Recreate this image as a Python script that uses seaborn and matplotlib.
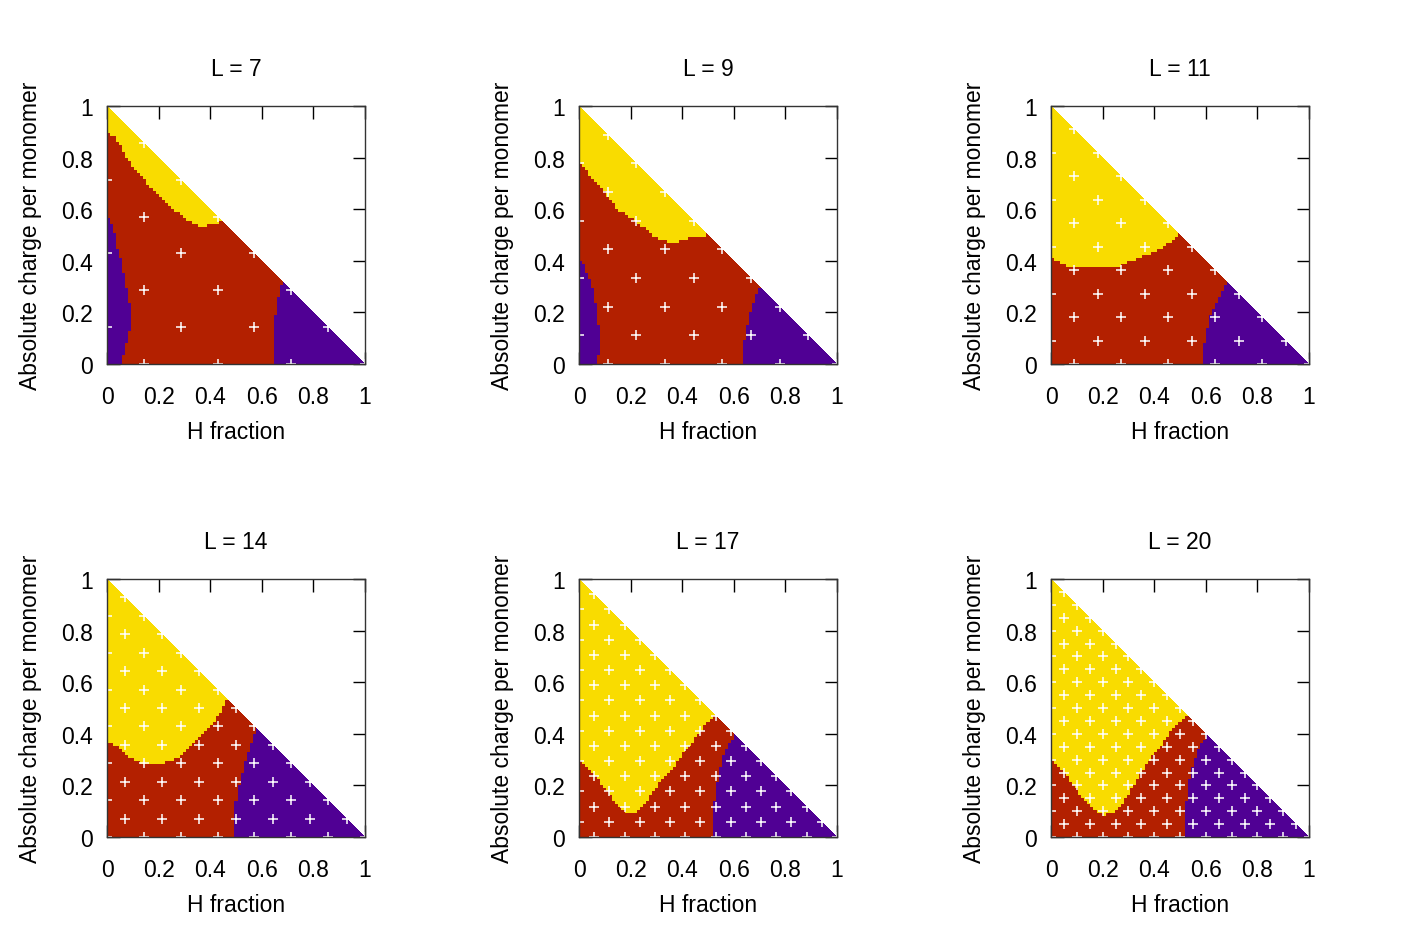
import numpy as np
import matplotlib
matplotlib.use("Agg")
import matplotlib.pyplot as plt
from matplotlib.colors import ListedColormap
import seaborn as sns

# ---- data -------------------------------------------------------------
lengths = [7, 9, 11, 14, 17, 20]
tick_vals = [0, 0.2, 0.4, 0.6, 0.8, 1]
tick_labels = ["0", "0.2", "0.4", "0.6", "0.8", "1"]

# lower edge of the yellow region: (H fraction, charge)
yellow_x = {
    7:  [0, 0.01, 0.03, 0.05, 0.07, 0.09, 0.11, 0.14, 0.165, 0.20, 0.24, 0.28, 0.335, 0.37, 0.41, 0.45],
    9:  [0, 0.01, 0.03, 0.05, 0.07, 0.09, 0.11, 0.13, 0.15, 0.18, 0.22, 0.26, 0.295, 0.34, 0.385, 0.43, 0.47, 0.50],
    11: [0, 0.01, 0.03, 0.07, 0.115, 0.18, 0.26, 0.31, 0.36, 0.41, 0.46, 0.49, 0.50],
    14: [0, 0.025, 0.05, 0.075, 0.10, 0.14, 0.18, 0.22, 0.26, 0.30, 0.335, 0.375, 0.41, 0.44, 0.455, 0.47],
    17: [0, 0.025, 0.05, 0.10, 0.14, 0.18, 0.205, 0.225, 0.26, 0.31, 0.36, 0.41, 0.465, 0.505, 0.525],
    20: [0, 0.025, 0.063, 0.10, 0.14, 0.18, 0.21, 0.245, 0.285, 0.335, 0.385, 0.44, 0.49, 0.525],
}
yellow_y = {
    7:  [0.91, 0.89, 0.88, 0.85, 0.81, 0.78, 0.76, 0.73, 0.69, 0.65, 0.61, 0.58, 0.54, 0.53, 0.54, 0.55],
    9:  [0.775, 0.77, 0.75, 0.72, 0.70, 0.68, 0.65, 0.63, 0.60, 0.575, 0.55, 0.52, 0.49, 0.475, 0.475, 0.49, 0.497, 0.50],
    11: [0.41, 0.405, 0.394, 0.38, 0.372, 0.372, 0.38, 0.40, 0.42, 0.44, 0.47, 0.49, 0.50],
    14: [0.372, 0.36, 0.34, 0.316, 0.30, 0.285, 0.281, 0.285, 0.30, 0.327, 0.36, 0.40, 0.437, 0.48, 0.515, 0.53],
    17: [0.298, 0.275, 0.25, 0.19, 0.14, 0.10, 0.09, 0.104, 0.14, 0.205, 0.26, 0.33, 0.40, 0.455, 0.475],
    20: [0.298, 0.275, 0.236, 0.184, 0.132, 0.093, 0.087, 0.093, 0.145, 0.223, 0.30, 0.372, 0.443, 0.475],
}

# right edge of the purple strip at low H fraction: (charge, H fraction)
left_purple_y = {
    7: [0, 0.02, 0.06, 0.12, 0.20, 0.24, 0.30, 0.355, 0.39, 0.43, 0.46, 0.51, 0.54, 0.575, 0.576],
    9: [0, 0.06, 0.12, 0.19, 0.25, 0.30, 0.355, 0.39, 0.41, 0.411],
}
left_purple_x = {
    7: [0.06, 0.063, 0.07, 0.088, 0.092, 0.088, 0.075, 0.063, 0.057, 0.05, 0.037, 0.03, 0.018, 0.0, -0.01],
    9: [0.07, 0.083, 0.083, 0.07, 0.063, 0.05, 0.03, 0.018, 0.0, -0.01],
}

# left edge of the purple region at high H fraction: (charge, H fraction)
right_purple_y = {
    7:  [0, 0.175, 0.20, 0.24, 0.265, 0.31, 0.315],
    9:  [0, 0.084, 0.12, 0.175, 0.225, 0.25, 0.28, 0.297],
    11: [0, 0.07, 0.12, 0.175, 0.213, 0.25, 0.29, 0.317],
    14: [0, 0.12, 0.17, 0.22, 0.275, 0.327, 0.38, 0.42],
    17: [0, 0.067, 0.145, 0.22, 0.29, 0.34, 0.38, 0.395],
    20: [0, 0.093, 0.145, 0.197, 0.262, 0.30, 0.35, 0.38, 0.395],
}
right_purple_x = {
    7:  [0.647, 0.647, 0.655, 0.658, 0.668, 0.677, 0.685],
    9:  [0.638, 0.64, 0.647, 0.658, 0.673, 0.683, 0.693, 0.703],
    11: [0.59, 0.592, 0.60, 0.613, 0.632, 0.645, 0.67, 0.683],
    14: [0.497, 0.497, 0.505, 0.515, 0.53, 0.545, 0.563, 0.58],
    17: [0.515, 0.515, 0.524, 0.537, 0.55, 0.57, 0.593, 0.605],
    20: [0.518, 0.518, 0.524, 0.53, 0.543, 0.556, 0.575, 0.593, 0.605],
}

colors = ["#f9dc00", "#b32000", "#500094"]  # yellow, red, purple

# ---- style ------------------------------------------------------------
sns.set_theme(style="ticks")
plt.rcParams["font.family"] = ["Liberation Sans", "DejaVu Sans"]
plt.rcParams["text.color"] = "black"
plt.rcParams["axes.labelcolor"] = "black"
plt.rcParams["xtick.color"] = "black"
plt.rcParams["ytick.color"] = "black"
FS = 16.5

fig = plt.figure(figsize=(14.17, 9.45), dpi=100)
W, H = 1417, 945
col_left = [107, 579, 1051]
row_top = [107, 580]
size = 258

cmap = ListedColormap(colors)
NF = 258      # display resolution
NC = 85       # classification resolution
edges = np.linspace(0, 1, NF + 1)
centers = (edges[:-1] + edges[1:]) / 2
XX, YY = np.meshgrid(centers, centers)
XQ = (np.floor(XX * NC) + 0.5) / NC
YQ = (np.floor(YY * NC) + 0.5) / NC

for k, L in enumerate(lengths):
    r, c = divmod(k, 3)
    ax = fig.add_axes([col_left[c] / W, 1 - (row_top[r] + size) / H, size / W, size / H])

    cls = np.ones_like(XX)
    yb = np.interp(XQ, yellow_x[L], yellow_y[L])
    cls[YQ > yb] = 0
    rp = np.interp(YQ, right_purple_y[L], right_purple_x[L])
    cls[(XQ > rp) & (cls != 0)] = 2
    if L in left_purple_y:
        lp = np.interp(YQ, left_purple_y[L], left_purple_x[L])
        cls[(XQ < lp) & (cls != 0)] = 2
    cls = np.ma.masked_where(XX + YY > 1.0, cls)
    ax.pcolormesh(edges, edges, cls, cmap=cmap, vmin=-0.5, vmax=2.5, shading="flat")

    # sampled compositions
    pts = [(i / L, j / L) for i in range(L + 1) for j in range(L + 1)
           if i + j <= L and (i + j) % 2 == L % 2]
    px = [p[0] for p in pts]
    py = [p[1] for p in pts]
    sns.scatterplot(x=px, y=py, marker="+", color="white", s=60, linewidth=1.1,
                    ax=ax, zorder=3, clip_on=True)
    for coll in ax.collections:
        coll.set_clip_on(True)
        coll.set_clip_path(ax.patch)

    ax.set_xlim(0, 1)
    ax.set_ylim(0, 1)
    ax.set_xticks(tick_vals)
    ax.set_xticklabels(tick_labels)
    ax.set_yticks(tick_vals)
    ax.set_yticklabels(tick_labels)
    ax.tick_params(axis="both", direction="in", length=9, width=1, color="black",
                   labelcolor="black", top=True, right=True, labelsize=FS)
    ax.tick_params(axis="x", pad=15)
    ax.tick_params(axis="y", pad=10)
    for s in ax.spines.values():
        s.set_color("#333333")
        s.set_linewidth(1)
        s.set_visible(True)
        s.set_zorder(4)
    ax.set_facecolor("white")
    ax.set_title(f"L = {L}", fontsize=FS, pad=22, color="black")
    ax.set_xlabel("H fraction", fontsize=FS, labelpad=9, color="black")
    ax.set_ylabel("Absolute charge per monomer", fontsize=FS, labelpad=14, color="black")

fig.savefig("out.png", dpi=100, facecolor="white")
